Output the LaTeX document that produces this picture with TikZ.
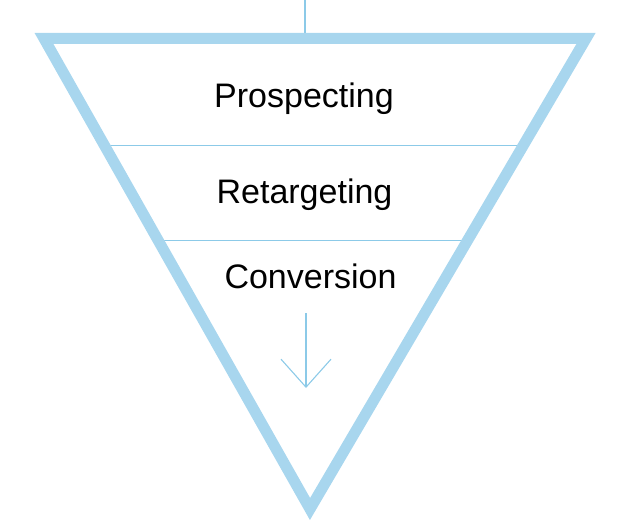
\documentclass[tikz,border=0pt]{standalone}
\usepackage{fontspec}
\setmainfont{Liberation Sans}
\usetikzlibrary{calc,arrows.meta,positioning}
\definecolor{funnelblue}{RGB}{168,214,238}
\definecolor{lineblue}{RGB}{140,202,232}
\tikzstyle{funnel} = [draw=funnelblue,line width=11pt,line join=miter]
\tikzstyle{divider} = [-,color=lineblue,line width=1.1pt]
\tikzstyle{stage} = [inner sep=0,anchor=base,font=\fontsize{34}{40}\selectfont]
\def \ta {0.228}
\def \tb {0.4295}

\begin{document}
\begin{tikzpicture}[x=1pt,y=-1pt]
      \useasboundingbox (0,0) rectangle (639,526);
      \coordinate (tl) at (44,38.5);
      \coordinate (tr) at (586,38.5);
      \coordinate (bot) at (310,509);
      \coordinate (top) at (305,0);
      % dividers under the funnel
      \draw[divider] ($(tl)!\ta!(bot)$) -- ($(tr)!\ta!(bot)$);
      \draw[divider] ($(tl)!\tb!(bot)$) -- ($(tr)!\tb!(bot)$);
      \draw[divider] (top) -- (top |- tl);
      \draw[funnel] (tl) -- (tr) -- (bot) -- cycle;
      \node[stage] (prospecting) at (304,108) {Prospecting};
      \node[stage] (retargeting) at (304.5,204) {Retargeting};
      \node[stage] (conversion) at (310.5,288) {Conversion};
      \coordinate (flowtop) at (306,313);
      \coordinate (flowtip) at (306,388);
      \draw[divider,-{Straight Barb[length=28pt,width=50pt]}] (flowtop) -- (flowtip);
    \end{tikzpicture}
\end{document}
